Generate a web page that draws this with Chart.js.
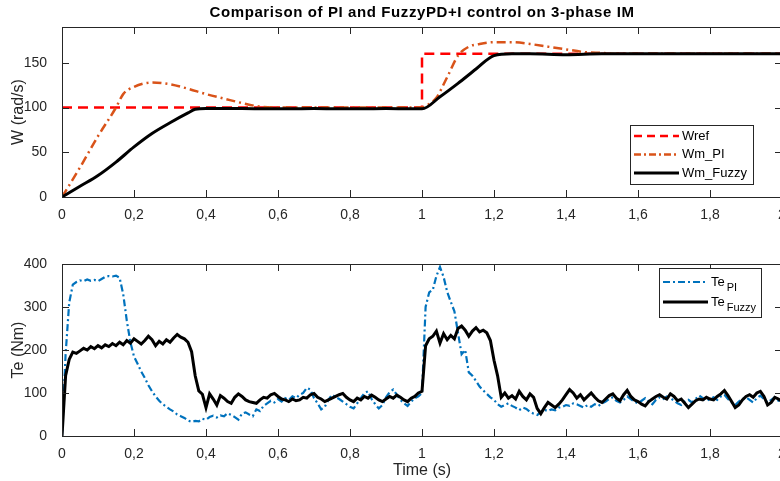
<!DOCTYPE html>
<html>
<head>
<meta charset="utf-8">
<script src="https://cdn.jsdelivr.net/npm/chart.js@4.4.0/dist/chart.umd.min.js"></script>
<style>
html, body { margin: 0; padding: 0; background: #fff; overflow: hidden; width: 780px; height: 481px; }
#top { position: absolute; left: 0; top: 0; }
#bot { position: absolute; left: 0; top: 240px; }
</style>
</head>
<body>
<canvas id="top" width="844" height="227"></canvas>
<canvas id="bot" width="844" height="241"></canvas>
<script>
// speed plot (rad/s)
var wrefT = [0, 1, 1, 2];
var wrefW = [100, 100, 160, 160];
var piT = [0, 0.05, 0.1, 0.15, 0.17, 0.2, 0.25, 0.3, 0.35, 0.4, 0.45, 0.5, 0.55, 0.6, 0.7, 0.8, 0.9, 1.0,
           1.02, 1.04, 1.07, 1.1, 1.13, 1.16, 1.2, 1.25, 1.3, 1.35, 1.4, 1.45, 1.5, 1.55, 1.6, 1.8, 2.0];
var piW = [0, 33, 68, 100, 115, 123, 128, 126, 121, 115, 110, 105, 101, 100, 100, 100, 100, 100,
           104, 111, 134, 158, 168, 171, 173, 173, 171, 168, 165, 162, 161, 160, 160, 160, 160];
var fuzT = [0, 0.05, 0.1, 0.15, 0.2, 0.25, 0.3, 0.35, 0.37, 0.4, 0.5, 0.6, 0.7, 0.8, 0.9, 1.0,
            1.05, 1.1, 1.15, 1.2, 1.25, 1.3, 1.4, 1.5, 1.6, 1.8, 2.0];
var fuzW = [0, 12, 24, 39, 56, 71, 83, 94, 98, 99, 99, 98.5, 99, 98.5, 99, 98.5,
            112, 127, 143, 158, 160, 160, 159, 160, 160, 160, 160];

// torque plot (Nm), one sample every 0.01 s from 0 to 2 s
var teStep = 0.01;
var tePI = [
  0, 190, 310, 352, 358, 362, 360, 364, 361, 363,
  360, 365, 370, 372, 371, 373, 368, 330, 268, 218,
  185, 168, 150, 135, 118, 104, 92, 82, 74, 68,
  62, 57, 50, 46, 42, 36, 33, 35, 34, 40,
  38, 44, 47, 43, 48, 46, 53, 49, 44, 38,
  52, 55, 50, 46, 62, 58, 70, 76, 82, 78,
  86, 80, 88, 84, 92, 88, 96, 100, 112, 108,
  88, 76, 62, 68, 84, 96, 90, 86, 80, 74,
  68, 64, 76, 88, 100, 104, 86, 74, 64, 72,
  90, 102, 108, 96, 84, 76, 70, 80, 88, 92,
  100, 300, 334, 340, 372, 393, 370, 335, 312, 290,
  240, 190, 200, 148, 140, 128, 115, 106, 98, 90,
  84, 74, 68, 72, 76, 70, 66, 60, 66, 63,
  56, 52, 49, 55, 61, 58, 62, 60, 66, 68,
  72, 70, 76, 74, 70, 66, 72, 68, 74, 70,
  76, 80, 86, 90, 82, 78, 84, 92, 86, 80,
  76, 82, 88, 80, 74, 84, 90, 86, 92, 88,
  82, 76, 72, 80, 84, 78, 86, 94, 88, 82,
  86, 90, 84, 92, 96, 86, 78, 72, 80, 86,
  90, 84, 78, 88, 94, 86, 78, 84, 90, 82,
  86
];
var teFuzzy = [
  0, 140, 178, 195, 192, 198, 204, 200, 208, 203,
  210, 205, 212, 208, 215, 210, 218, 212, 222, 216,
  226, 220, 214, 222, 232, 224, 210, 220, 214, 224,
  218, 228, 236, 230, 226, 218, 196, 140, 105, 97,
  66, 98, 86, 72, 94, 88, 80, 76, 90, 98,
  92, 84, 80, 78, 76, 84, 90, 88, 96, 99,
  92, 86, 84, 80, 86, 82, 84, 90, 88, 96,
  99, 90, 86, 80, 84, 88, 92, 96, 99, 90,
  84, 80, 88, 84, 92, 88, 95, 90, 84, 80,
  86, 92, 88, 95, 90, 84, 80, 88, 92, 100,
  104, 210, 226, 232, 244, 216, 238, 224, 234, 226,
  250, 256, 246, 232, 244, 252, 242, 246, 240, 222,
  176, 140, 90, 100, 88, 94, 86, 104, 92, 84,
  98, 90, 64, 52, 66, 78, 72, 66, 74, 84,
  96, 108, 100, 88, 96, 84, 92, 100, 90, 82,
  78, 86, 94, 98, 88, 82, 96, 106, 92, 84,
  80, 74, 70, 80, 86, 92, 96, 90, 86, 98,
  92, 82, 86, 76, 66, 74, 82, 86, 84, 90,
  86, 84, 92, 98, 106, 94, 80, 66, 72, 84,
  92, 96, 90, 100, 104, 92, 72, 78, 90, 86,
  80
];

var xTicks = [0, 0.2, 0.4, 0.6, 0.8, 1, 1.2, 1.4, 1.6, 1.8, 2];
var wTicks = [0, 50, 100, 150];
var teTicks = [0, 100, 200, 300, 400];

var ink = '#262626';
var fam = "'Liberation Sans', Arial, sans-serif";

function pts(xs, ys) {
    return ys.map(function (v, i) { return { x: xs[i], y: v }; });
}
function sampled(ys) {
    return ys.map(function (v, i) { return { x: i * teStep, y: v }; });
}
function comma(v) {
    return String(Math.round(v * 10) / 10).replace('.', ',');
}

// box, inward ticks, title over the plot area and a matlab-like legend
var frame = {
    id: 'frame',
    afterDatasetsDraw: function (chart, args, opts) {
        var a = chart.chartArea, c = chart.ctx;
        var xs = chart.scales.x, ys = chart.scales.y;
        c.save();
        c.strokeStyle = ink;
        c.lineWidth = 1;
        c.setLineDash([]);
        c.strokeRect(a.left + 0.5, a.top + 0.5, a.right - a.left, a.bottom - a.top);
        c.beginPath();
        xs.ticks.forEach(function (t) {
            var px = Math.round(xs.getPixelForValue(t.value)) + 0.5;
            c.moveTo(px, a.bottom); c.lineTo(px, a.bottom - 7);
            c.moveTo(px, a.top); c.lineTo(px, a.top + 7);
        });
        ys.ticks.forEach(function (t) {
            var py = Math.round(ys.getPixelForValue(t.value)) + 0.5;
            c.moveTo(a.left, py); c.lineTo(a.left + 7, py);
            c.moveTo(a.right, py); c.lineTo(a.right - 7, py);
        });
        c.stroke();

        if (opts.title) {
            c.fillStyle = '#000';
            c.font = 'bold 15px ' + fam;
            c.letterSpacing = '0.6px';
            c.textAlign = 'center';
            c.textBaseline = 'middle';
            c.fillText(opts.title, (a.left + a.right) / 2, 13);
            c.letterSpacing = '0px';
            c.textAlign = 'left';
        }

        var L = opts.legend;
        c.fillStyle = '#fff';
        c.fillRect(L.x, L.y, L.w, L.h);
        c.strokeStyle = ink;
        c.strokeRect(L.x + 0.5, L.y + 0.5, L.w, L.h);
        L.items.forEach(function (it, i) {
            var y = L.y + L.first + i * L.row;
            c.beginPath();
            c.strokeStyle = it.color;
            c.lineWidth = it.width;
            c.setLineDash(it.dash);
            c.moveTo(L.x + 4, y);
            c.lineTo(L.x + 4 + L.line, y);
            c.stroke();
            c.setLineDash([]);
            c.fillStyle = '#000';
            c.textBaseline = 'middle';
            c.font = '13px ' + fam;
            var tx = L.x + 7 + L.line;
            c.fillText(it.text, tx, y);
            if (it.sub) {
                var w = c.measureText(it.text).width;
                c.font = '11px ' + fam;
                c.fillText(it.sub, tx + w + 2, y + 6);
            }
        });
        c.restore();
    }
};

function xScale(showTitle, h) {
    return {
        type: 'linear', min: 0, max: 2,
        grid: { display: false }, border: { display: false },
        ticks: { color: ink, font: { family: fam, size: 14 }, padding: 2, maxRotation: 0, autoSkip: false, callback: comma },
        title: { display: showTitle, text: 'Time (s)', color: ink, font: { family: fam, size: 16 }, padding: { top: 0, bottom: 1 } },
        afterBuildTicks: function (s) { s.ticks = xTicks.map(function (v) { return { value: v }; }); },
        afterFit: function (s) { s.height = h; s.paddingLeft = 0; s.paddingRight = 0; }
    };
}
function yScale(label, max, list) {
    return {
        min: 0, max: max,
        grid: { display: false }, border: { display: false },
        ticks: { color: ink, font: { family: fam, size: 14 }, padding: 7 },
        title: { display: true, text: label, color: ink, font: { family: fam, size: 16 }, padding: { top: 9, bottom: 0 } },
        afterBuildTicks: function (s) { s.ticks = list.map(function (v) { return { value: v }; }); },
        afterFit: function (s) { s.width = 62; s.paddingTop = 0; s.paddingBottom = 0; }
    };
}

new Chart(document.getElementById('top'), {
    type: 'line',
    data: {
        datasets: [
            { label: 'Wref', data: pts(wrefT, wrefW), borderColor: '#FF0000', borderWidth: 2.5, borderDash: [10, 6], pointRadius: 0, order: 2 },
            { label: 'Wm_PI', data: pts(piT, piW), borderColor: '#D95319', borderWidth: 2.5, borderDash: [9, 4, 2, 4], pointRadius: 0, cubicInterpolationMode: 'monotone', order: 1 },
            { label: 'Wm_Fuzzy', data: pts(fuzT, fuzW), borderColor: '#000000', borderWidth: 3, pointRadius: 0, cubicInterpolationMode: 'monotone', order: 0 }
        ]
    },
    options: {
        responsive: false, animation: false,
        layout: { padding: { top: 27, right: 62 } },
        scales: { x: xScale(false, 30), y: yScale('W (rad/s)', 190, wTicks) },
        plugins: {
            legend: { display: false }, tooltip: { enabled: false },
            frame: {
                title: 'Comparison of PI and FuzzyPD+I control on 3-phase IM',
                legend: { x: 630, y: 125, w: 123, h: 59, first: 11, row: 18.5, line: 45, items: [
                    { text: 'Wref', color: '#FF0000', width: 2.5, dash: [8, 5] },
                    { text: 'Wm_PI', color: '#D95319', width: 2.5, dash: [7, 3, 2, 3] },
                    { text: 'Wm_Fuzzy', color: '#000000', width: 3, dash: [] }
                ] }
            }
        }
    },
    plugins: [frame]
});

new Chart(document.getElementById('bot'), {
    type: 'line',
    data: {
        datasets: [
            { label: 'Te_PI', data: sampled(tePI), borderColor: '#0072BD', borderWidth: 2.2, borderDash: [7, 3, 2, 3], pointRadius: 0, order: 1 },
            { label: 'Te_Fuzzy', data: sampled(teFuzzy), borderColor: '#000000', borderWidth: 3, pointRadius: 0, order: 0 }
        ]
    },
    options: {
        responsive: false, animation: false,
        layout: { padding: { top: 24, right: 62 } },
        scales: { x: xScale(true, 45), y: yScale('Te (Nm)', 400, teTicks) },
        plugins: {
            legend: { display: false }, tooltip: { enabled: false },
            frame: {
                legend: { x: 659, y: 28, w: 102, h: 49, first: 14, row: 20, line: 45, items: [
                    { text: 'Te', sub: 'PI', color: '#0072BD', width: 2.2, dash: [7, 3, 2, 3] },
                    { text: 'Te', sub: 'Fuzzy', color: '#000000', width: 3, dash: [] }
                ] }
            }
        }
    },
    plugins: [frame]
});
</script>
</body>
</html>
